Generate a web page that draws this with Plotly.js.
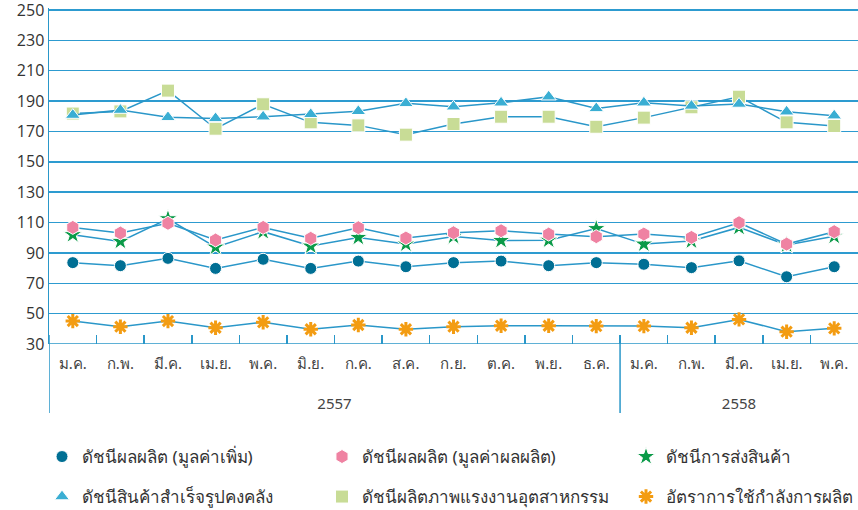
<!DOCTYPE html>
<html>
<head>
<meta charset="utf-8">
<script src="https://cdn.plot.ly/plotly-3.0.1.min.js"></script>
<style>html,body{margin:0;padding:0;background:#fff;}#chart{width:858px;height:510px;}</style>
</head>
<body>
<div id="chart"></div>
<script>
const years = ['2557','2557','2557','2557','2557','2557','2557','2557','2557','2557','2557','2557','2558','2558','2558','2558','2558'];
const months = ['ม.ค.','ก.พ.','มี.ค.','เม.ย.','พ.ค.','มิ.ย.','ก.ค.','ส.ค.','ก.ย.','ต.ค.','พ.ย.','ธ.ค.','ม.ค.','ก.พ.','มี.ค.','เม.ย.','พ.ค.'];

const seriesNames = [
  'ดัชนีผลผลิต (มูลค่าเพิ่ม)',
  'ดัชนีผลผลิต (มูลค่าผลผลิต)',
  'ดัชนีการส่งสินค้า',
  'ดัชนีสินค้าสำเร็จรูปคงคลัง',
  'ดัชนีผลิตภาพแรงงานอุตสาหกรรม',
  'อัตราการใช้กำลังการผลิต'
];

const valueAdded   = [83.6, 81.6, 86.4, 79.8, 85.8, 79.8, 84.6, 80.9, 83.6, 84.6, 81.6, 83.6, 82.5, 80.3, 84.8, 74.3, 80.9];
const outputValue  = [106.8, 103.1, 109.5, 98.5, 106.8, 99.6, 106.6, 99.8, 103.3, 104.6, 102.4, 100.7, 102.4, 100.2, 109.9, 95.8, 104.0];
const shipments    = [102.0, 97.6, 112.5, 93.8, 104.0, 94.5, 100.2, 95.8, 100.8, 98.2, 98.4, 106.0, 95.8, 97.8, 106.8, 95.2, 100.9];
const inventory    = [180.8, 184.1, 179.3, 178.6, 179.7, 181.3, 183.3, 188.5, 186.3, 188.9, 192.9, 185.2, 188.9, 186.8, 188.1, 183.0, 180.4];
const productivity = [181.8, 183.2, 196.9, 171.8, 187.9, 176.0, 174.0, 167.9, 174.9, 179.7, 179.7, 173.1, 179.1, 185.9, 192.9, 176.0, 173.6];
const capacity     = [45.1, 41.4, 45.1, 40.7, 44.3, 39.7, 42.5, 39.7, 41.4, 42.0, 42.0, 41.8, 41.8, 40.7, 46.2, 38.1, 40.3];

const yTicks = [30, 50, 70, 90, 110, 130, 150, 170, 190, 210, 230, 250];

const lineColor = '#2a97c9';
const gridColor = '#2d9bd0';
const font = 'Noto Sans, Open Sans, sans-serif';

// month labels padded with a blank line to push the year row down
const monthLabels = months.map(m => m + "<br><span style='font-size:35px'>\u00a0</span>");

function series(y, name, symbol, color, size, legendId, extra) {
  const m = {symbol: symbol, color: color, size: size, line: {color: '#ffffff', width: 1}};
  if (extra) Object.assign(m, extra);
  return [
    {type: 'scatter', mode: 'lines', x: [years, monthLabels], y: y, name: name,
     line: {color: lineColor, width: 1.5}, showlegend: false, hoverinfo: 'skip'},
    {type: 'scatter', mode: 'markers', x: [years, monthLabels], y: y, name: name,
     marker: m, legend: legendId, hoverinfo: 'skip'}
  ];
}

const data = [].concat(
  series(productivity, seriesNames[4], 'square', '#c8dc96', 13, 'legend5'),
  series(inventory, seriesNames[3], 'triangle-up', '#3aaed3', 13, 'legend4'),
  series(capacity, seriesNames[5], 'asterisk-open', '#f39c12', 12, 'legend6', {line: {color: '#f39c12', width: 3}}),
  series(valueAdded, seriesNames[0], 'circle', '#006f94', 12, 'legend'),
  series(shipments, seriesNames[2], 'star', '#0a9a48', 14, 'legend3'),
  series(outputValue, seriesNames[1], 'hexagon', '#ef82a2', 14, 'legend2')
);

function leg(x, y) {
  return {x: x, y: y, xref: 'paper', yref: 'container', xanchor: 'left', yanchor: 'middle',
          orientation: 'v', bgcolor: 'rgba(0,0,0,0)', font: {family: font, size: 17, color: '#333'},
          itemsizing: 'trace'};
}
const c1 = (42 - 49) / 809, c2 = (322 - 49) / 809, c3 = (626 - 49) / 809;
const r1 = 1 - 457 / 510, r2 = 1 - 497 / 510;

// group separators: left edge and between the two years (category index boundaries)
const dividerAt = [-0.5, 11.5];
const dividerBottom = (344 - 413) / 336;

const layout = {
  width: 858, height: 510,
  margin: {l: 49, r: 0, t: 8, b: 166},
  paper_bgcolor: '#ffffff', plot_bgcolor: '#ffffff',
  font: {family: font, color: '#333'},
  xaxis: {
    type: 'multicategory',
    range: [-0.5, 16.5], autorange: false,
    showline: false,
    ticks: 'inside', ticklen: 9, tickcolor: lineColor, tickwidth: 1.5,
    tickson: 'boundaries',
    ticklabelstandoff: 9,
    showgrid: false, zeroline: false,
    showdividers: false,
    tickfont: {family: font, size: 15, color: '#444'}
  },
  yaxis: {
    range: [30, 251.32], autorange: false, tickvals: yTicks, ticktext: yTicks.map(String),
    showline: true, linecolor: lineColor, linewidth: 1.5,
    showgrid: true, gridcolor: gridColor, gridwidth: 1.5,
    zeroline: false, ticks: '', ticklabeloverflow: 'allow',
    tickfont: {family: 'Open Sans, sans-serif', size: 16, color: '#333'}
  },
  shapes: [
    {type: 'line', xref: 'paper', yref: 'y', x0: 0, x1: 1, y0: 30, y1: 30,
     line: {color: lineColor, width: 1.5}, layer: 'above'}
  ].concat(dividerAt.map(v => ({
    type: 'line', xref: 'x', yref: 'paper', x0: v, x1: v, y0: 0.027, y1: dividerBottom,
    line: {color: lineColor, width: 1.5}, layer: 'above'
  }))),
  legend: leg(c1, r1),
  legend2: leg(c2, r1),
  legend3: leg(c3, r1),
  legend4: leg(c1, r2),
  legend5: leg(c2, r2),
  legend6: leg(c3, r2),
  showlegend: true
};

Plotly.newPlot('chart', data, layout, {displayModeBar: false, staticPlot: true});
</script>
</body>
</html>
